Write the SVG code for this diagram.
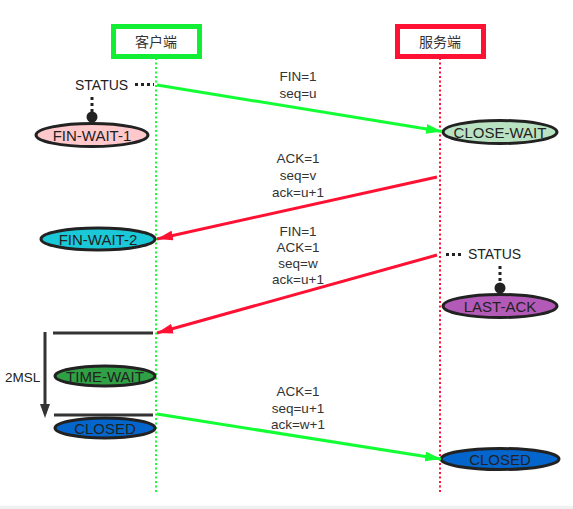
<svg xmlns="http://www.w3.org/2000/svg" width="573" height="509" viewBox="0 0 573 509">
<style>
.t{font-family:"Liberation Sans",Arial,sans-serif;font-size:13.5px;fill:#333;text-anchor:middle}
.st{font-family:"Liberation Sans",Arial,sans-serif;font-size:14px;fill:#222}
.et{font-family:"Liberation Sans",Arial,sans-serif;font-size:15px;fill:#222;text-anchor:middle}
.hd{font-family:"Noto Sans CJK SC",sans-serif;font-size:14px;fill:#333;text-anchor:middle}
.el{stroke:#222;stroke-width:3}
.dot{stroke:#222;stroke-width:3;stroke-dasharray:3 3;fill:none}
.g{stroke:#11ff33;stroke-width:3;fill:none}
.r{stroke:#ff1133;stroke-width:3;fill:none}
.bar{stroke:#333;stroke-width:3}
</style>
<defs>
<marker id="ag" markerUnits="userSpaceOnUse" viewBox="0 0 16 10" refX="16" refY="5" markerWidth="16" markerHeight="10" orient="auto"><path d="M0,0 L16,5 L0,10 z" fill="#11ff33"/></marker>
<marker id="ar" markerUnits="userSpaceOnUse" viewBox="0 0 16 10" refX="16" refY="5" markerWidth="16" markerHeight="10" orient="auto"><path d="M0,0 L16,5 L0,10 z" fill="#ff1133"/></marker>
</defs>
<rect width="573" height="509" fill="#fff"/>
<rect x="0" y="506" width="573" height="3" fill="#f0f0f0"/>
<g id="lifelines">
<line x1="156" y1="58" x2="156" y2="493" stroke="#11ff33" stroke-width="2" stroke-dasharray="2 2.5"/>
<line x1="440" y1="58" x2="440" y2="493" stroke="#ff1133" stroke-width="2" stroke-dasharray="2 2.5"/>
</g>
<g id="client">
<rect x="113.5" y="26.5" width="86" height="30" fill="#fff" stroke="#11ee33" stroke-width="5"/>
<text class="hd" x="156" y="47">客户端</text>
</g>
<g id="server">
<rect x="397.5" y="26.5" width="86" height="30" fill="#fff" stroke="#ff1133" stroke-width="5"/>
<text class="hd" x="440" y="47">服务端</text>
</g>
<g id="status1">
<text class="st" x="75" y="90">STATUS</text>
<line class="dot" x1="135" y1="84.5" x2="154" y2="84.5"/>
<line class="dot" x1="92" y1="97" x2="92" y2="112"/>
<circle cx="92" cy="117" r="5.5" fill="#222"/>
</g>
<g id="finwait1">
<ellipse class="el" cx="92" cy="135" rx="56" ry="11.5" fill="#ffc9cc"/>
<text class="et" x="92" y="140.5">FIN-WAIT-1</text>
</g>
<g id="closewait">
<ellipse class="el" cx="500" cy="132" rx="57" ry="11.5" fill="#b9e2c2"/>
<text class="et" x="500" y="137.5">CLOSE-WAIT</text>
</g>
<g id="finwait2">
<ellipse class="el" cx="98" cy="239" rx="57" ry="11" fill="#1bc8d8"/>
<text class="et" x="98" y="244.5">FIN-WAIT-2</text>
</g>
<g id="status2">
<line class="dot" x1="446" y1="254.5" x2="463" y2="254.5"/>
<text class="st" x="468" y="259">STATUS</text>
<line class="dot" x1="500" y1="266" x2="500" y2="282"/>
<circle cx="500" cy="288" r="5.5" fill="#222"/>
</g>
<g id="lastack">
<ellipse class="el" cx="500" cy="306" rx="57" ry="11.5" fill="#b35ab8"/>
<text class="et" x="500" y="311.5">LAST-ACK</text>
</g>
<g id="timewait">
<ellipse class="el" cx="105" cy="376" rx="50" ry="10" fill="#2fa044"/>
<text class="et" x="105" y="381.5">TIME-WAIT</text>
</g>
<g id="closed1">
<ellipse class="el" cx="105" cy="428" rx="50" ry="10" fill="#0466cc"/>
<text class="et" x="105" y="433.5">CLOSED</text>
</g>
<g id="closed2">
<ellipse class="el" cx="500" cy="459" rx="59" ry="10.5" fill="#0466cc"/>
<text class="et" x="500" y="464.5">CLOSED</text>
</g>
<g id="timer">
<line class="bar" x1="53" y1="333" x2="153" y2="333"/>
<line class="bar" x1="54" y1="415" x2="153" y2="415"/>
<line class="bar" x1="45" y1="332" x2="45" y2="408"/>
<path d="M40,404 L50,404 L45,418 z" fill="#333"/>
<text class="st" x="5" y="382" style="font-size:13.5px">2MSL</text>
</g>
<g id="connectors">
<line class="g" x1="157" y1="85" x2="442" y2="131.5" marker-end="url(#ag)"/>
<line class="r" x1="437" y1="177" x2="157" y2="239" marker-end="url(#ar)"/>
<line class="r" x1="437" y1="255" x2="157" y2="333" marker-end="url(#ar)"/>
<line class="g" x1="157" y1="414" x2="441" y2="459" marker-end="url(#ag)"/>
</g>
<g id="labels">
<text class="t" x="298" y="81">FIN=1</text>
<text class="t" x="298" y="98">seq=u</text>
<text class="t" x="298" y="163">ACK=1</text>
<text class="t" x="298" y="180">seq=v</text>
<text class="t" x="298" y="197">ack=u+1</text>
<text class="t" x="298" y="236">FIN=1</text>
<text class="t" x="298" y="252">ACK=1</text>
<text class="t" x="298" y="268">seq=w</text>
<text class="t" x="298" y="284">ack=u+1</text>
<text class="t" x="298" y="396">ACK=1</text>
<text class="t" x="298" y="413">seq=u+1</text>
<text class="t" x="298" y="429">ack=w+1</text>
</g>
</svg>
